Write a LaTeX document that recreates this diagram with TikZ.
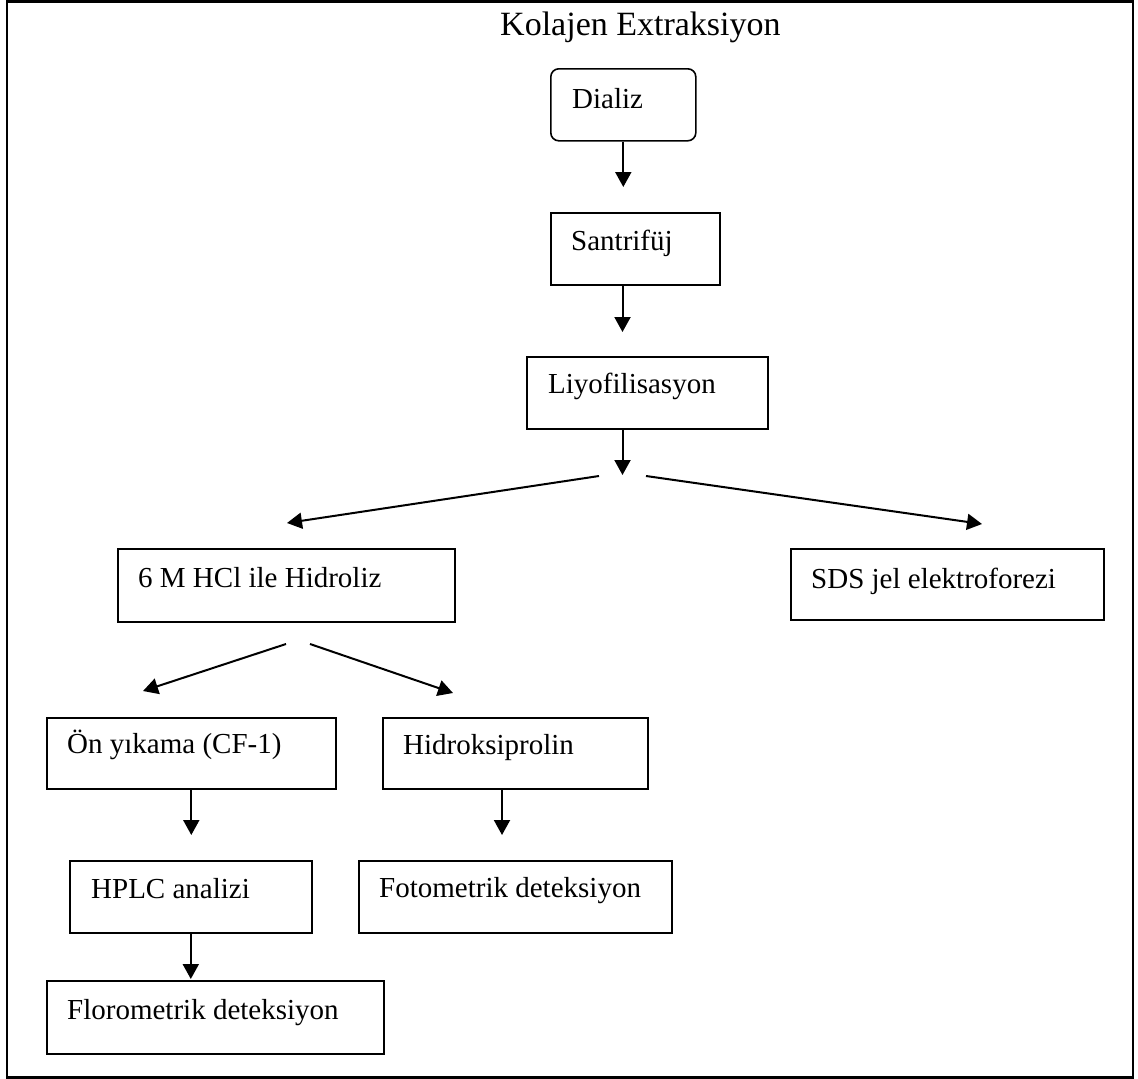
\documentclass[tikz,border=0pt]{standalone}
\usepackage{fontspec}
\setmainfont{Liberation Serif}
\usetikzlibrary{arrows.meta}
\begin{document}
\begin{tikzpicture}[x=1pt,y=-1pt,
  box/.style={draw, line width=1.6pt, anchor=north west, inner sep=0pt},
  lbl/.style={anchor=base west, inner sep=0pt, font=\fontsize{29}{34}\selectfont},
  arr/.style={line width=2pt, -{Triangle[width=16pt,length=15pt]}}]
\useasboundingbox (0,0) rectangle (1138,1079);
\draw[line width=2.6pt] (7,1.3) rectangle (1133,1077.5);
% title
\node[anchor=base west, inner sep=0pt, font=\fontsize{34}{40}\selectfont] (title) at (500,35) {Kolajen Extraksiyon};
% boxes
\node[box, rounded corners=8pt, minimum width=145pt, minimum height=72pt] (dializ) at (550,68) {};
\node[lbl] (tdializ) at (572,108) {Dializ};
\node[box, minimum width=169pt, minimum height=72pt] (santrifuj) at (550,212) {};
\node[lbl] (tsantrifuj) at (571,250) {Santrifüj};
\node[box, minimum width=241pt, minimum height=72pt] (liyo) at (526,356) {};
\node[lbl] (tliyo) at (548,393) {Liyofilisasyon};
\node[box, minimum width=337pt, minimum height=73pt] (hidroliz) at (117,548) {};
\node[lbl] (thidroliz) at (138,587) {6 M HCl ile Hidroliz};
\node[box, minimum width=313pt, minimum height=71pt] (sds) at (790,548) {};
\node[lbl] (tsds) at (811,588) {SDS jel elektroforezi};
\node[box, minimum width=289pt, minimum height=71pt] (onyik) at (46,717) {};
\node[lbl] (tonyik) at (67,753) {Ön yıkama (CF-1)};
\node[box, minimum width=265pt, minimum height=71pt] (hidroks) at (382,717) {};
\node[lbl] (thidroks) at (403,754) {Hidroksiprolin};
\node[box, minimum width=242pt, minimum height=72pt] (hplc) at (69,860) {};
\node[lbl] (thplc) at (91,898) {HPLC analizi};
\node[box, minimum width=313pt, minimum height=72pt] (foto) at (358,860) {};
\node[lbl] (tfoto) at (379,897) {Fotometrik deteksiyon};
\node[box, minimum width=337pt, minimum height=73pt] (floro) at (46,980) {};
\node[lbl] (tfloro) at (67,1019) {Florometrik deteksiyon};
% connector coordinates
\coordinate (a1) at (622.5,187);
\coordinate (a2s) at (622.5,284);
\coordinate (a2) at (622.5,332);
\coordinate (a3s) at (622.5,428);
\coordinate (a3) at (622.5,475);
\coordinate (bLs) at (599,476);
\coordinate (bL) at (287,523);
\coordinate (bRs) at (646,476);
\coordinate (bR) at (982,524);
\coordinate (cLs) at (286,644);
\coordinate (cL) at (143,691);
\coordinate (cRs) at (310,644);
\coordinate (cR) at (453,693);
\coordinate (d1) at (190.5,835);
\coordinate (d2) at (190,979);
\coordinate (e1s) at (502,788);
\coordinate (e1) at (502,835);
% connectors
\draw[arr] (dializ.south) -- (dializ.south |- a1);
\draw[arr] (a2s) -- (a2);
\draw[arr] (a3s) -- (a3);
\draw[arr] (bLs) -- (bL);
\draw[arr] (bRs) -- (bR);
\draw[arr] (cLs) -- (cL);
\draw[arr] (cRs) -- (cR);
\draw[arr] (onyik.south) -- (onyik.south |- d1);
\draw[arr] (hplc.south) -- (hplc.south |- d2);
\draw[arr] (e1s) -- (e1);
\end{tikzpicture}
\end{document}
